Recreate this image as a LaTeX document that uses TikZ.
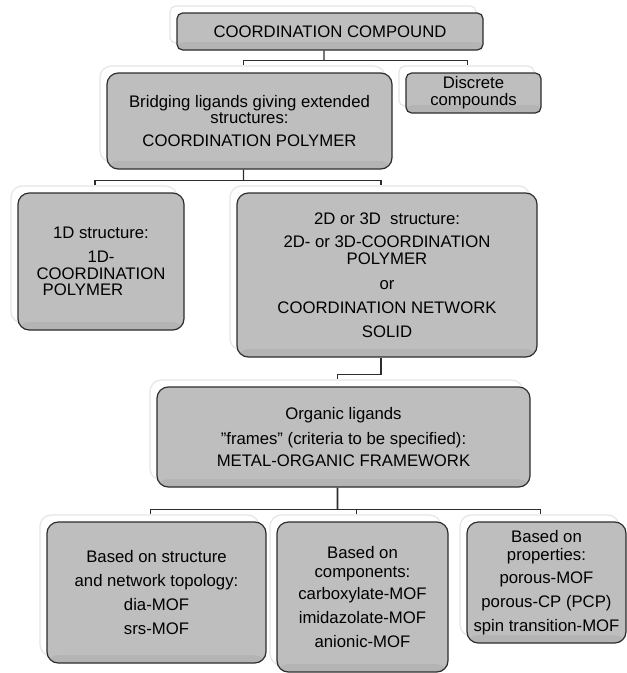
\documentclass[tikz,border=0pt]{standalone}
\usepackage{fontspec}
\setmainfont{Liberation Sans}
\usepackage{tikz}
\usetikzlibrary{positioning,calc,shadows}
\definecolor{boxfill}{RGB}{190,190,190}
\definecolor{boxline}{RGB}{45,45,45}
\tikzset{
  catbox/.style={rectangle,rounded corners=8pt,draw=boxline,line width=0.85pt,fill=boxfill,
    align=center,inner sep=0pt,font=\fontsize{11.9}{12}\selectfont,
    general shadow={fill=white,draw=black!10,shadow xshift=-0.175cm,shadow yshift=0.175cm},
    path picture={\fill[black,opacity=0.05] ([yshift=0.2cm]path picture bounding box.south west)
      rectangle (path picture bounding box.south east);}},
  smallbox/.style={catbox,rounded corners=4pt},
  conn/.style={draw=boxline,line width=0.85pt},
  busconn/.style={conn,line width=1.4pt}
}
\begin{document}
\begin{tikzpicture}
  \useasboundingbox (0,0) rectangle (15.675,-16.825);

  \node[smallbox,minimum width=7.65cm,minimum height=0.925cm] (cc) at (8.25,-0.7875)
      {COORDINATION COMPOUND};
  \node[smallbox,minimum width=3.375cm,minimum height=1.0cm] (disc) at (11.8375,-2.325)
      {Discrete\\compounds};
  \node[catbox,minimum width=7.125cm,minimum height=2.4cm] (cp) at (6.2375,-3.025)
      {Bridging ligands giving extended\\structures:\\[4.3pt]COORDINATION POLYMER};

  \node[catbox,minimum width=4.15cm,minimum height=3.425cm] (oned) at (2.525,-6.5375)
      {1D structure:\\[5pt]1D-\\COORDINATION\\POLYMER\hspace*{0.9cm}};
  \node[catbox,minimum width=7.5cm,minimum height=4.1cm] (twod) at (9.675,-6.875)
      {2D or 3D~ structure:\\[5pt]2D- or 3D-COORDINATION\\POLYMER\\[5.7pt]or\\[5pt]
       COORDINATION NETWORK\\[5pt]SOLID};

  \node[catbox,minimum width=9.325cm,minimum height=2.5cm] (mof) at (8.5875,-10.925)
      {Organic ligands\\[5.7pt]\char34 frames\char34{} (criteria to be specified):\\[3.6pt]METAL-ORGANIC FRAMEWORK};

  \node[catbox,minimum width=5.475cm,minimum height=3.525cm] (topo) at (3.9125,-14.8125)
      {Based on structure\\[5pt]and network topology:\\[5pt]dia-MOF\\[5pt]srs-MOF};
  \node[catbox,minimum width=4.275cm,minimum height=3.75cm] (comp) at (9.0625,-14.925)
      {Based on\\[1.4pt]components:\\[3.6pt]carboxylate-MOF\\[5pt]imidazolate-MOF\\[5pt]anionic-MOF};
  \node[catbox,minimum width=3.975cm,minimum height=3.025cm] (prop) at (13.6625,-14.5625)
      {Based on\\[1.4pt]properties:\\[4.3pt]porous-MOF\\[5pt]porous-CP (PCP)\\[5pt]spin transition-MOF};

  % compound -> polymer / discrete
  \draw[conn] ([xshift=-1.5mm]cc.south) -- ($(cc.south |- cp.north)+(-0.15,0.3)$);
  \draw[conn] ($(cp.north)+(-0.15,0.175)$) -- ++(0,0.125) -| ($(disc.north)+(-0.15,0.175)$);

  % polymer -> 1D / 2D-3D
  \draw[conn] ([xshift=-1.5mm]cp.south) -- ($(cp.south |- oned.north)+(-0.15,0.3)$);
  \draw[conn] ($(oned.north)+(-0.15,0.175)$) -- ++(0,0.125) -| ($(twod.north)+(-0.15,0.175)$);

  % network -> MOF
  \draw[conn] ([xshift=-1.5mm]twod.south) |- ($(mof.north)+(-0.15,0.3)$) -- ++(0,-0.125);

  % MOF -> classifications
  \draw[busconn] ([xshift=-1.5mm]mof.south) -- ($(mof.south |- topo.north)+(-0.15,0.3)$);
  \draw[conn] ($(topo.north)+(-0.15,0.175)$) -- ++(0,0.125) -| ($(prop.north)+(-0.15,0.175)$);
  \draw[conn] ($(comp.north)+(-0.15,0.175)$) -- ++(0,0.125);
\end{tikzpicture}
\end{document}
